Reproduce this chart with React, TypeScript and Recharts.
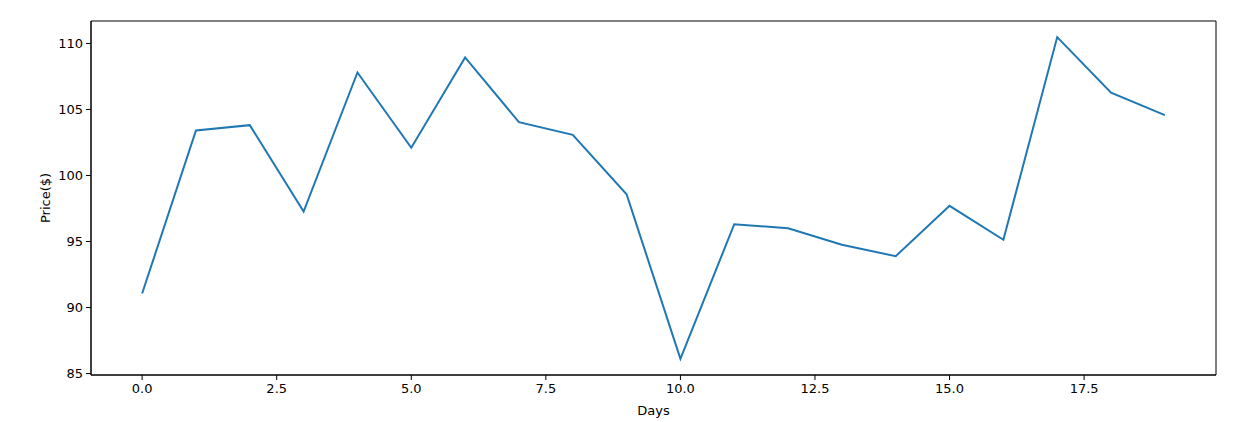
import { LineChart, Line, XAxis, YAxis, ReferenceArea } from "recharts"

const days = [0, 1, 2, 3, 4, 5, 6, 7, 8, 9, 10, 11, 12, 13, 14, 15, 16, 17, 18, 19]
const prices = [
  91.06, 103.41, 103.81, 97.27, 107.8, 102.1, 108.94, 104.04, 103.08, 98.58,
  86.11, 96.31, 96.01, 94.75, 93.89, 97.7, 95.13, 110.48, 106.27, 104.57,
]
const xTicks = [0, 2.5, 5, 7.5, 10, 12.5, 15, 17.5]
const yTicks = [85, 90, 95, 100, 105, 110]
const xDomain = [-0.95, 19.95]
const yDomain = [84.89, 111.7]

const data = days.map((d, i) => ({ day: d, price: prices[i] }))

const font = "DejaVu Sans, sans-serif"
const tickStyle = { fill: "#000", fontSize: 13, fontFamily: font }

export default function App() {
  return (
    <div style={{ position: "absolute", left: 0, top: 0, background: "#fff" }}>
      <LineChart width={1248} height={422} data={data} margin={{ top: 21, right: 32, bottom: 0, left: 0 }}>
        <XAxis
          dataKey="day"
          type="number"
          domain={xDomain}
          ticks={xTicks}
          tickFormatter={(v: number) => v.toFixed(1)}
          allowDataOverflow
          height={47}
          stroke="#000"
          tickSize={5}
          tickMargin={4}
          tick={tickStyle}
          label={{ value: "Days", position: "insideBottom", offset: 7, fill: "#000", fontSize: 13, fontFamily: font }}
        />
        <YAxis
          type="number"
          domain={yDomain}
          ticks={yTicks}
          allowDataOverflow
          width={91}
          stroke="#000"
          tickSize={5}
          tickMargin={3}
          tick={tickStyle}
          label={{ value: "Price($)", angle: -90, position: "insideLeft", offset: 45, fill: "#000", fontSize: 13, fontFamily: font, style: { textAnchor: "middle" } }}
        />
        <ReferenceArea
          x1={xDomain[0]}
          x2={xDomain[1]}
          y1={yDomain[0]}
          y2={yDomain[1]}
          fill="none"
          fillOpacity={0}
          stroke="#000"
          strokeWidth={1}
          ifOverflow="visible"
        />
        <Line
          type="linear"
          dataKey="price"
          stroke="#1f77b4"
          strokeWidth={2}
          dot={false}
          isAnimationActive={false}
        />
      </LineChart>
    </div>
  )
}
